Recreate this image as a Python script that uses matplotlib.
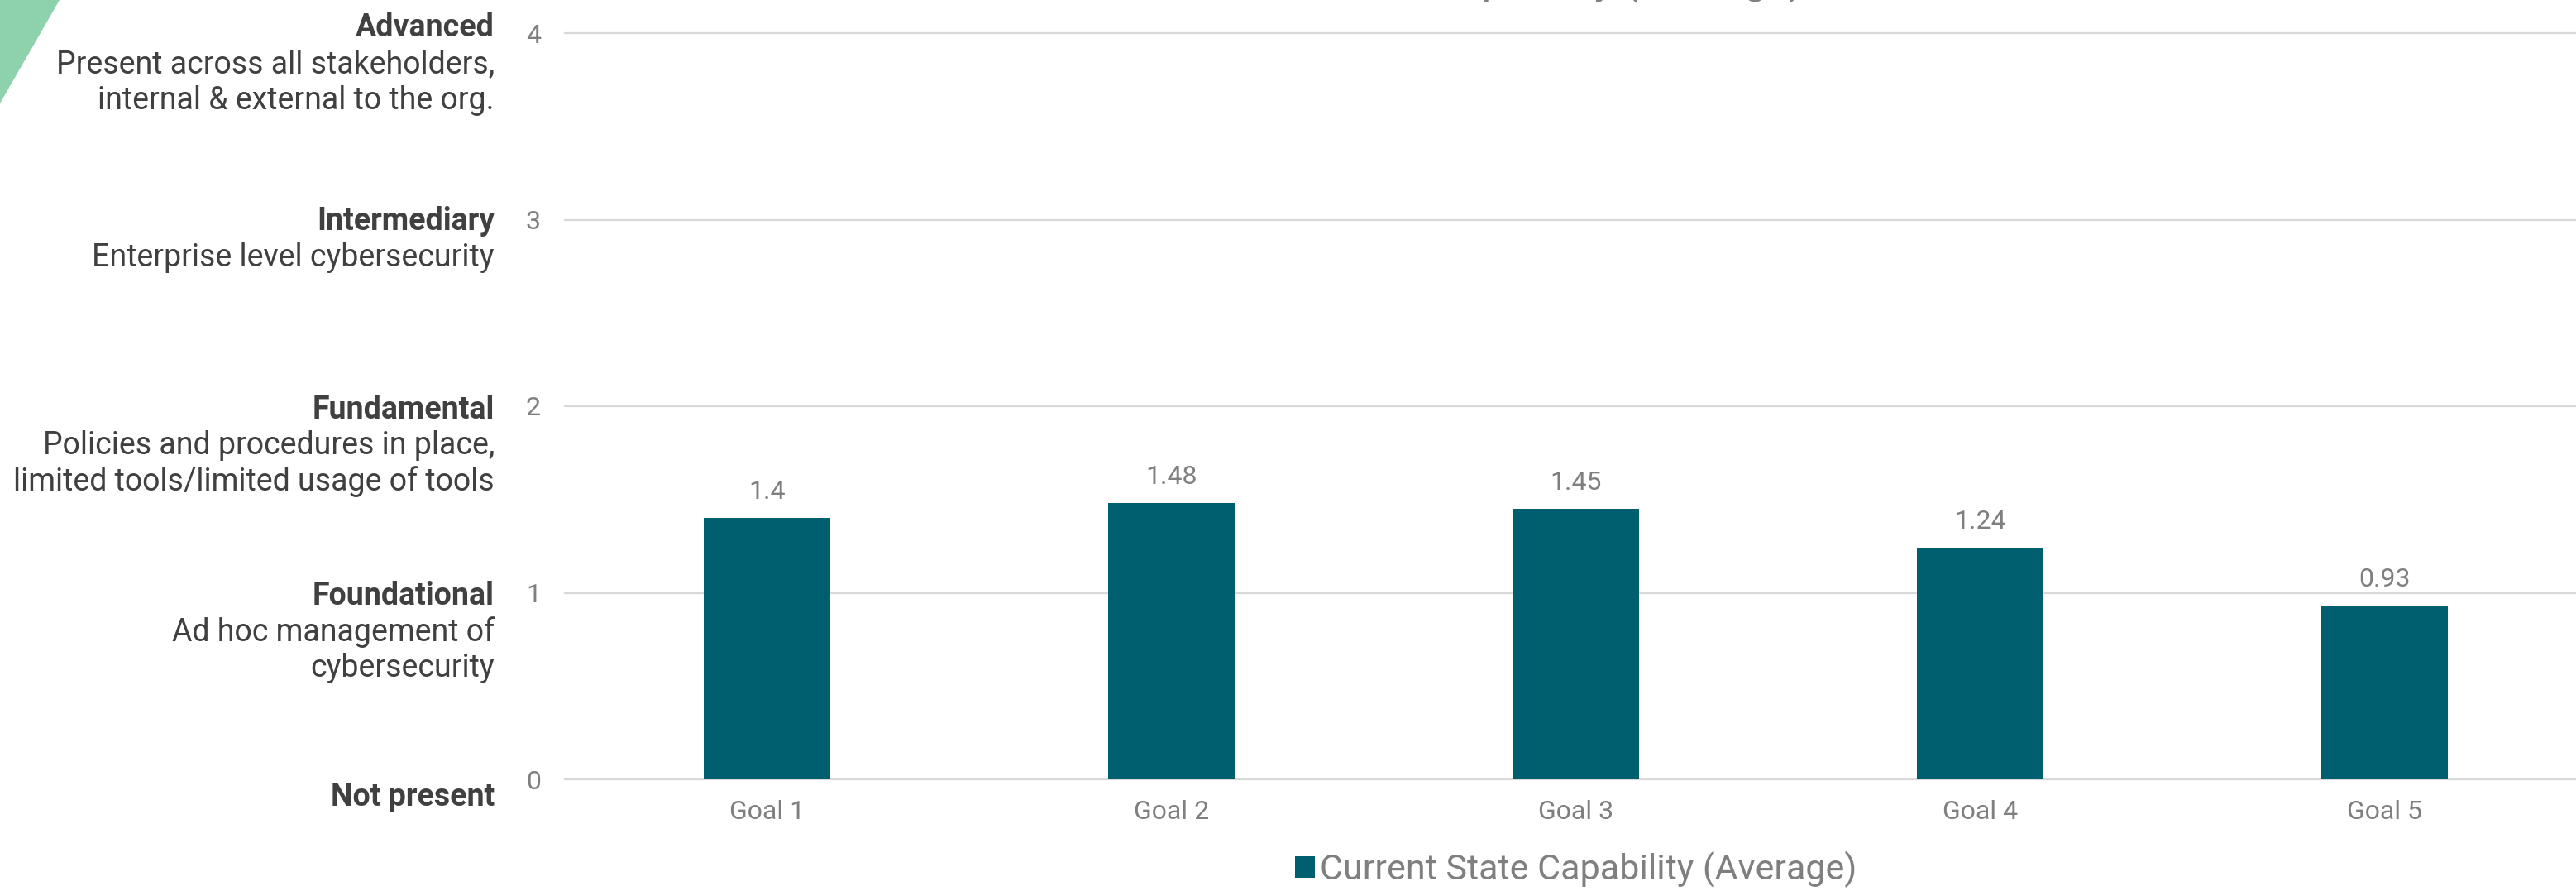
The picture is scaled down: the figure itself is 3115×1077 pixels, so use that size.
import matplotlib.pyplot as plt
from matplotlib.patches import Polygon
from matplotlib.transforms import offset_copy

plt.rcParams['font.family'] = ['Roboto', 'DejaVu Sans']

goals = ['Goal 1', 'Goal 2', 'Goal 3', 'Goal 4', 'Goal 5']
capability = [1.4, 1.48, 1.45, 1.24, 0.93]
series_name = 'Current State Capability (Average)'

levels = [4, 3, 2, 1, 0]
level_names = ['Advanced', 'Intermediary', 'Fundamental', 'Foundational', 'Not present']
level_notes = [
    ['Present across all stakeholders,', 'internal & external to the org.'],
    ['Enterprise level cybersecurity'],
    ['Policies and procedures in place,', 'limited tools/limited usage of tools'],
    ['Ad hoc management of', 'cybersecurity'],
    [],
]

BAR = '#005f6e'
GRID = '#d9d9d9'
DARK = '#404040'
GREY = '#7f7f7f'

W, H = 3115, 1077
fig = plt.figure(figsize=(W / 100, H / 100), dpi=100)

# green accent strip in the top-left corner
fig.patches.append(Polygon([(0, 1), (72 / W, 1), (0, 1 - 125 / H)], closed=True,
                           transform=fig.transFigure, facecolor='#8ed1ad',
                           edgecolor='none'))

ax = fig.add_axes([683 / W, 1 - 942 / H, 2445 / W, 902 / H])
x = range(len(goals))
ax.bar(x, capability, width=0.313, color=BAR, zorder=3)

ax.set_xlim(-0.5, 4.5)
ax.set_ylim(0, 4)
ax.set_yticks(levels)
ax.set_xticks(list(x))
ax.set_xticklabels(goals)
ax.tick_params(axis='both', length=0, labelsize=23, labelcolor=GREY)
ax.tick_params(axis='y', pad=21)
ax.tick_params(axis='x', pad=18)
for s in ax.spines.values():
    s.set_visible(False)
ax.yaxis.grid(True, color=GRID, linewidth=1.6)
for gl in ax.get_ygridlines():
    gl.set_clip_on(False)
ax.set_axisbelow(True)

# value labels above the bars
for i, v in enumerate(capability):
    ax.annotate(f'{v:g}', (i, v), xytext=(0, 23), textcoords='offset points',
                ha='center', va='center', fontsize=23, color=GREY)

# maturity level descriptions left of the axis
first_offset = [-10, -2, 0, 0, 18]   # px, downwards from the gridline
line_step = 43.5
base = ax.get_yaxis_transform()
for lvl, name, notes, off in zip(levels, level_names, level_notes, first_offset):
    for k, line in enumerate([name] + notes):
        tr = offset_copy(base, fig=fig, x=0, y=-(off + k * line_step), units='dots')
        ax.text(-0.0348, lvl, line, transform=tr, ha='right', va='center_baseline',
                fontsize=27, color=DARK, fontweight='bold' if k == 0 else 'normal')

leg = ax.legend([series_name], loc='center', bbox_to_anchor=(0.5, -0.121),
                frameon=False, fontsize=31, handlelength=0.56, handleheight=0.56,
                handletextpad=0.15, labelcolor=GREY)

# title sits above the canvas, only its descenders show
fig.text(0.579, 1 + 9 / H, series_name, ha='center', va='baseline',
         fontsize=36, color=GREY)

fig.savefig('out.png', dpi=100)
